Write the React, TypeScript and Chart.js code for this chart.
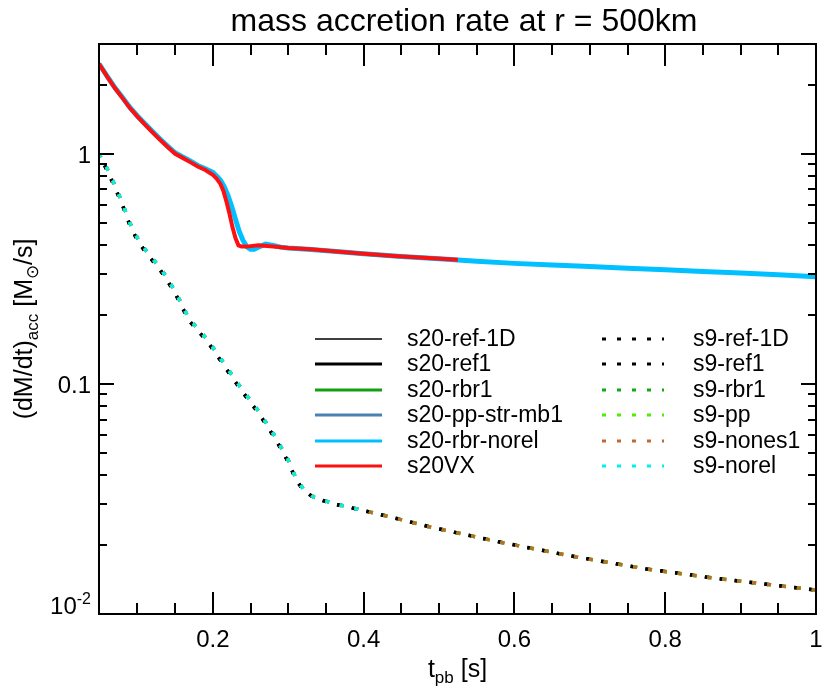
import React, { useEffect, useRef } from "react";
import { Chart, registerables } from "chart.js";

Chart.register(...registerables);

// ---------- axis ranges & ticks ----------
const X_MIN = 0.049;
const X_MAX = 1.0;
const Y_MIN = 0.01;
const Y_MAX = 3.0;

const xMajorTicks = [0.2, 0.4, 0.6, 0.8, 1.0];
const xTickLabels = ["0.2", "0.4", "0.6", "0.8", "1"];
const xMinorTicks = [0.1, 0.15, 0.25, 0.3, 0.35, 0.45, 0.5, 0.55, 0.65, 0.7, 0.75, 0.85, 0.9, 0.95];

const yMajorTicks = [0.01, 0.1, 1];
const yTickBase = ["10", "0.1", "1"];
const yTickSup = ["-2", "", ""];
const yMinorTicks = [0.02, 0.03, 0.04, 0.05, 0.06, 0.07, 0.08, 0.09, 0.2, 0.3, 0.4, 0.5, 0.6, 0.7, 0.8, 0.9, 2];

const titleText = "mass accretion rate at r = 500km";

// ---------- s20 series ----------
const s20VXTime = [0.049, 0.06, 0.07, 0.08, 0.09, 0.10, 0.11, 0.12, 0.13, 0.14, 0.15, 0.16, 0.17, 0.18, 0.19, 0.20, 0.205, 0.21, 0.214, 0.218, 0.222, 0.226, 0.230, 0.234, 0.238, 0.245, 0.26, 0.28, 0.30, 0.33, 0.36, 0.40, 0.44, 0.48, 0.525];
const s20VXRate = [2.46, 2.16, 1.93, 1.75, 1.58, 1.45, 1.34, 1.24, 1.15, 1.07, 1.00, 0.96, 0.92, 0.88, 0.85, 0.81, 0.78, 0.74, 0.69, 0.62, 0.55, 0.48, 0.43, 0.40, 0.395, 0.395, 0.400, 0.395, 0.390, 0.385, 0.377, 0.368, 0.360, 0.353, 0.346];

const s20NorelTime = [0.049, 0.06, 0.07, 0.08, 0.09, 0.10, 0.11, 0.12, 0.13, 0.14, 0.15, 0.16, 0.17, 0.18, 0.19, 0.20, 0.205, 0.21, 0.215, 0.22, 0.225, 0.23, 0.235, 0.24, 0.245, 0.25, 0.255, 0.262, 0.27, 0.28, 0.29, 0.30, 0.33, 0.36, 0.40, 0.45, 0.50, 0.55, 0.60, 0.65, 0.70, 0.75, 0.80, 0.85, 0.90, 0.95, 1.0];
const s20NorelRate = [2.46, 2.17, 1.94, 1.76, 1.59, 1.46, 1.35, 1.25, 1.16, 1.08, 1.01, 0.97, 0.93, 0.89, 0.86, 0.83, 0.80, 0.77, 0.72, 0.66, 0.59, 0.52, 0.46, 0.42, 0.395, 0.385, 0.385, 0.395, 0.405, 0.40, 0.393, 0.390, 0.384, 0.377, 0.368, 0.358, 0.350, 0.341, 0.334, 0.329, 0.324, 0.318, 0.313, 0.308, 0.303, 0.298, 0.292];

// other s20 runs lie underneath the rbr-norel curve
const s20OtherTime = s20NorelTime;
const s20OtherRate = [2.46, 2.17, 1.94, 1.76, 1.59, 1.46, 1.35, 1.25, 1.16, 1.08, 1.01, 0.97, 0.93, 0.89, 0.86, 0.83, 0.80, 0.77, 0.72, 0.66, 0.59, 0.52, 0.46, 0.42, 0.395, 0.386, 0.386, 0.395, 0.403, 0.40, 0.393, 0.390, 0.384, 0.377, 0.368, 0.358, 0.350, 0.341, 0.334, 0.329, 0.324, 0.318, 0.313, 0.308, 0.303, 0.298, 0.292];

// ---------- s9 series ----------
const s9Time = [0.049, 0.06, 0.07, 0.08, 0.09, 0.10, 0.11, 0.12, 0.13, 0.14, 0.151, 0.168, 0.194, 0.216, 0.238, 0.261, 0.282, 0.301, 0.31, 0.32, 0.334, 0.36, 0.395, 0.44, 0.488, 0.585, 0.682, 0.775, 0.866, 1.0];
const s9NonesRate = [1.0, 0.86, 0.73, 0.61, 0.50, 0.43, 0.385, 0.35, 0.32, 0.286, 0.249, 0.193, 0.154, 0.121, 0.0955, 0.0759, 0.0595, 0.046, 0.039, 0.035, 0.0322, 0.0302, 0.0284, 0.0262, 0.0239, 0.0204, 0.0177, 0.0157, 0.0143, 0.0127];
const s9RefRate = [0.99, 0.845, 0.715, 0.60, 0.49, 0.42, 0.377, 0.343, 0.313, 0.280, 0.244, 0.189, 0.151, 0.1185, 0.0935, 0.0744, 0.0583, 0.0452, 0.0384, 0.0346, 0.0320, 0.0301, 0.0284, 0.0262, 0.0239, 0.0204, 0.0177, 0.0157, 0.0143, 0.0127];
const s9NorelTime = [0.049, 0.06, 0.07, 0.08, 0.09, 0.10, 0.11, 0.12, 0.13, 0.14, 0.151, 0.168, 0.194, 0.216, 0.238, 0.261, 0.282, 0.301, 0.31, 0.32, 0.334, 0.36, 0.395];
const s9NorelRate = [1.0, 0.86, 0.73, 0.61, 0.50, 0.43, 0.385, 0.35, 0.32, 0.286, 0.249, 0.193, 0.154, 0.121, 0.0955, 0.0759, 0.0595, 0.046, 0.039, 0.035, 0.0322, 0.0302, 0.0284];

// ---------- series styles ----------
const seriesLabels = ["s20-ref-1D", "s20-ref1", "s20-rbr1", "s20-pp-str-mb1", "s20-rbr-norel", "s20VX", "s9-ref-1D", "s9-ref1", "s9-rbr1", "s9-pp", "s9-nones1", "s9-norel"];
const seriesColors = ["#000000", "#000000", "#12a012", "#4a82b4", "#00c0ff", "#ff1010", "#000000", "#000000", "#14a814", "#4cf000", "#c06a30", "#00f0f0"];

const FONT = "'Liberation Sans', Arial, Helvetica, sans-serif";
const DOT = [4, 11];

function pts(xs: number[], ys: number[]) {
  return xs.map((x, i) => ({ x, y: ys[i] }));
}

type Part = { t: string; size: number; dy: number };

function richWidth(ctx: CanvasRenderingContext2D, parts: Part[]) {
  let w = 0;
  for (const p of parts) {
    ctx.font = `${p.size}px ${FONT}`;
    w += ctx.measureText(p.t).width;
  }
  return w;
}
function drawRich(ctx: CanvasRenderingContext2D, parts: Part[], x: number, y: number) {
  let cx = x;
  for (const p of parts) {
    ctx.font = `${p.size}px ${FONT}`;
    ctx.fillText(p.t, cx, y + p.dy);
    cx += ctx.measureText(p.t).width;
  }
}

const framePlugin = {
  id: "idlFrame",
  afterDraw(chart: any) {
    const ctx: CanvasRenderingContext2D = chart.ctx;
    const { left, right, top, bottom } = chart.chartArea;
    const xs = chart.scales.x;
    const ys = chart.scales.y;
    ctx.save();
    ctx.strokeStyle = "#000";
    ctx.fillStyle = "#000";
    ctx.lineWidth = 2;
    ctx.lineCap = "butt";
    ctx.strokeRect(left, top, right - left, bottom - top);
    const tick = (x1: number, y1: number, x2: number, y2: number) => {
      ctx.beginPath();
      ctx.moveTo(x1, y1);
      ctx.lineTo(x2, y2);
      ctx.stroke();
    };
    xMajorTicks.forEach((v) => {
      const px = Math.round(xs.getPixelForValue(v));
      tick(px, bottom, px, bottom - 22);
      tick(px, top, px, top + 22);
    });
    xMinorTicks.forEach((v) => {
      const px = Math.round(xs.getPixelForValue(v));
      tick(px, bottom, px, bottom - 11);
      tick(px, top, px, top + 11);
    });
    yMajorTicks.forEach((v) => {
      const py = Math.round(ys.getPixelForValue(v));
      tick(left, py, left + 15, py);
      tick(right, py, right - 15, py);
    });
    yMinorTicks.forEach((v) => {
      const py = Math.round(ys.getPixelForValue(v));
      tick(left, py, left + 8, py);
      tick(right, py, right - 8, py);
    });
    // x tick labels
    ctx.textAlign = "center";
    ctx.textBaseline = "alphabetic";
    ctx.font = `24px ${FONT}`;
    xMajorTicks.forEach((v, i) => {
      ctx.fillText(xTickLabels[i], xs.getPixelForValue(v), bottom + 33);
    });
    // y tick labels
    ctx.textAlign = "left";
    yMajorTicks.forEach((v, i) => {
      const py = ys.getPixelForValue(v);
      const parts: Part[] = yTickSup[i]
        ? [{ t: yTickBase[i], size: 24, dy: 0 }, { t: yTickSup[i], size: 16, dy: -10 }]
        : [{ t: yTickBase[i], size: 24, dy: 9 }];
      const w = richWidth(ctx, parts);
      drawRich(ctx, parts, left - 8 - w, py);
    });
    // x axis title
    const xt: Part[] = [
      { t: "t", size: 25, dy: 0 },
      { t: "pb", size: 17, dy: 6 },
      { t: " [s]", size: 25, dy: 0 },
    ];
    const xw = richWidth(ctx, xt);
    drawRich(ctx, xt, (left + right) / 2 - xw / 2, bottom + 63);
    // y axis title (rotated)
    const yt: Part[] = [
      { t: "(dM/dt)", size: 25, dy: 0 },
      { t: "acc", size: 17, dy: 6 },
      { t: " [M", size: 25, dy: 0 },
      { t: "\u2299", size: 17, dy: 6 },
      { t: "/s]", size: 25, dy: 0 },
    ];
    const yw = richWidth(ctx, yt);
    ctx.save();
    ctx.translate(32, (top + bottom) / 2);
    ctx.rotate(-Math.PI / 2);
    drawRich(ctx, yt, -yw / 2, 0);
    ctx.restore();
    // title
    ctx.textAlign = "center";
    ctx.font = `32px ${FONT}`;
    ctx.fillText(titleText, 464, 31);

    // legend
    const rowY0 = 339;
    const rowStep = 25.4;
    ctx.font = `23px ${FONT}`;
    ctx.textAlign = "left";
    ctx.textBaseline = "middle";
    chart.data.datasets.forEach((ds: any, i: number) => {
      const col = i < 6 ? 0 : 1;
      const row = i % 6;
      const y = Math.round(rowY0 + row * rowStep);
      const x0 = col === 0 ? 315 : 602;
      const x1 = col === 0 ? 382 : 664;
      const tx = col === 0 ? 407 : 693;
      ctx.save();
      ctx.strokeStyle = ds.borderColor;
      ctx.lineWidth = ds.legendWidth;
      ctx.setLineDash(col === 0 ? [] : DOT);
      ctx.lineDashOffset = 0;
      ctx.beginPath();
      ctx.moveTo(x0, y);
      ctx.lineTo(x1, y);
      ctx.stroke();
      ctx.restore();
      ctx.fillStyle = "#000";
      ctx.fillText(ds.label, tx, y + 1);
    });
    ctx.restore();
  },
};

export default function App() {
  const ref = useRef<HTMLCanvasElement | null>(null);
  useEffect(() => {
    if (!ref.current) return;
    const seriesData = [
      pts(s20OtherTime, s20OtherRate),
      pts(s20OtherTime, s20OtherRate),
      pts(s20OtherTime, s20OtherRate),
      pts(s20OtherTime, s20OtherRate),
      pts(s20NorelTime, s20NorelRate),
      pts(s20VXTime, s20VXRate),
      pts(s9Time, s9RefRate),
      pts(s9Time, s9RefRate),
      pts(s9Time, s9NonesRate),
      pts(s9Time, s9NonesRate),
      pts(s9Time, s9NonesRate),
      pts(s9NorelTime, s9NorelRate),
    ];
    const widths = [1.5, 3, 3, 3, 5, 4, 3.5, 3.5, 3.5, 3.5, 3.5, 3.5];
    const legendWidths = [1.5, 3, 3, 3, 3, 3, 3, 3, 3, 3, 3, 3];
    const n = seriesLabels.length;
    const datasets = seriesLabels.map((label, i) => ({
      label,
      data: seriesData[i],
      borderColor: seriesColors[i],
      backgroundColor: seriesColors[i],
      borderWidth: widths[i],
      legendWidth: legendWidths[i],
      borderDash: i >= 6 ? DOT : [],
      borderDashOffset: i === 6 || i === 7 ? 3 : 0,
      borderCapStyle: "butt",
      pointRadius: 0,
      tension: 0,
      fill: false,
      order: n - i,
    }));
    const chart = new Chart(ref.current, {
      type: "line",
      data: { datasets: datasets as any },
      options: {
        responsive: false,
        animation: false,
        devicePixelRatio: 1,
        layout: { padding: { left: 99, top: 44, right: 14, bottom: 77 } },
        plugins: { legend: { display: false }, tooltip: { enabled: false }, title: { display: false } },
        scales: {
          x: { type: "linear", min: X_MIN, max: X_MAX, display: false },
          y: { type: "logarithmic", min: Y_MIN, max: Y_MAX, display: false },
        },
      },
      plugins: [framePlugin],
    });
    return () => chart.destroy();
  }, []);
  return (
    <div style={{ position: "absolute", left: 0, top: 0, width: 830, height: 691, background: "#fff" }}>
      <canvas ref={ref} width={830} height={691} style={{ display: "block" }} />
    </div>
  );
}
